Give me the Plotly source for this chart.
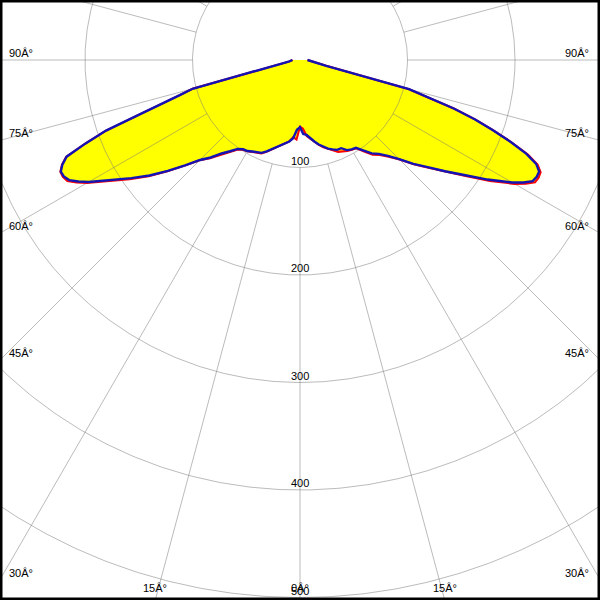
import numpy as np
import plotly.graph_objects as go

# ---------------- data ----------------
gamma = [0, 2.5, 5, 7.5, 10, 12.5, 15, 17.5, 20, 22.5, 25, 27.5, 30, 32.5, 35,
         37.5, 40, 42.5, 45, 47.5, 50, 52.5, 55, 57.5, 60, 61.25, 62.5, 63.75,
         65, 66.25, 67.5, 68.75, 70, 71.25, 72.5, 73.75, 75, 77.5, 80, 82.5,
         85, 87.5, 90]

# C90-C270 plane (blue): left half and right half, cd
blue_left = [62.5, 65, 73, 76.5, 78, 80.5, 83.5, 87, 90.5, 93.5, 95, 96, 97.8,
             98.5, 101, 107, 113.5, 123, 131.5, 145, 160.5, 176.5, 191.5, 207.5,
             227, 235, 242, 245, 245.5, 241.5, 235, 214, 192, 158, 132, 116,
             103.5, 25, 14, 10, 8.5, 7.5, 7]
blue_right = [62.5, 69, 70, 73.5, 77, 80.5, 83.5, 86.5, 88.5, 90.5, 90.5, 94.5,
              96, 96.8, 102.5, 109.5, 114, 121, 130.5, 143, 155, 170, 186.5,
              207, 228, 237, 244, 245.5, 245.5, 240, 228, 210, 191, 172, 150,
              123, 105, 25, 14, 10, 8.5, 7.5, 7]

# C0-C180 plane (red)
red_left = [62, 74, 72, 76.5, 78.5, 81, 84, 87.5, 91, 94, 95.5, 96.5, 98,
            99, 102, 108.5, 115, 124, 132, 145.5, 161, 177.5, 193.5, 209.5,
            229, 237, 244, 246, 246, 242, 235.5, 214, 192, 158, 132, 116,
            103.5, 25, 14, 10, 8.5, 7.5, 7]
red_right = [62, 64, 71, 74, 77.5, 81, 84, 87, 89.5, 92.5, 94, 95.5, 96.5,
             97.5, 104, 111, 115.5, 122, 131, 143.5, 156, 171, 188, 209.5,
             230.5, 239.5, 246.5, 247.5, 247, 241.5, 229.5, 211, 191.5, 172,
             150, 123, 105, 25, 14, 10, 8.5, 7.5, 7]

radial_ticks = [100, 200, 300, 400, 500]
radial_labels = ["100", "200", "300", "400", "500"]
side_angle_ticks = [90, 75, 60, 45, 30]
bottom_angle_ticks = [15, 0]
spoke_angles = list(range(0, 360, 15))

# ---------------- layout constants ----------------
W, H = 600, 600
CX, CY = 300, 60          # pole position in pixels
PX = 1.075                # pixels per cd
x_range = [-CX / PX, (W - CX) / PX]
y_range = [-(H - CY) / PX, CY / PX]

FONT = dict(family="Liberation Sans, Arial, sans-serif", size=11, color="black")
GRID = "rgba(120,120,120,0.5)"
DEG = "\u00c2\u00b0"


def polar_xy(g, vals, side):
    g = np.radians(np.asarray(g, dtype=float))
    v = np.asarray(vals, dtype=float)
    return side * v * np.sin(g), -v * np.cos(g)


def outline(left, right):
    xl, yl = polar_xy(gamma, left, -1)
    xr, yr = polar_xy(gamma, right, 1)
    x = np.concatenate([xl[::-1], xr[1:]])
    y = np.concatenate([yl[::-1], yr[1:]])
    return x, y


fig = go.Figure()

rx, ry = outline(red_left, red_right)
bx, by = outline(blue_left, blue_right)

# yellow fills
for x, y in ((rx, ry), (bx, by)):
    fig.add_trace(go.Scatter(x=x, y=y, mode="lines", fill="toself",
                             fillcolor="#ffff00", line=dict(width=0),
                             hoverinfo="skip", showlegend=False))

# grid circles
theta = np.linspace(0, 2 * np.pi, 721)
gx, gy = [], []
for r in radial_ticks:
    gx += list(r * np.cos(theta)) + [None]
    gy += list(r * np.sin(theta)) + [None]
fig.add_trace(go.Scatter(x=gx, y=gy, mode="lines",
                         line=dict(color=GRID, width=1),
                         hoverinfo="skip", showlegend=False))

# spokes (start at first circle)
sx, sy = [], []
r0, r1 = radial_ticks[0], radial_ticks[-1] * 2
for a in spoke_angles:
    xa, ya = polar_xy([a, a], [r0, r1], 1)
    sx += list(xa) + [None]
    sy += list(ya) + [None]
fig.add_trace(go.Scatter(x=sx, y=sy, mode="lines",
                         line=dict(color=GRID, width=1),
                         hoverinfo="skip", showlegend=False))

# curves
fig.add_trace(go.Scatter(x=rx, y=ry, mode="lines",
                         line=dict(color="#ff0000", width=2),
                         hoverinfo="skip", showlegend=False))
fig.add_trace(go.Scatter(x=bx, y=by, mode="lines",
                         line=dict(color="#1414b4", width=2.4),
                         hoverinfo="skip", showlegend=False))

ann = []
# radial value labels
for r, t in zip(radial_ticks, radial_labels):
    ann.append(dict(x=0, y=-r, xref="x", yref="y", text=t, showarrow=False,
                    yanchor="middle", xanchor="center", yshift=7, font=FONT))
# side angle labels
for a in side_angle_ticks:
    yd = -(-x_range[0]) * np.cos(np.radians(a)) / np.sin(np.radians(a))
    ann.append(dict(x=0, y=yd, xref="paper", yref="y", text=f"{a}{DEG}",
                    showarrow=False, xanchor="left", yanchor="middle",
                    xshift=7, yshift=7, font=FONT))
    ann.append(dict(x=1, y=yd, xref="paper", yref="y", text=f"{a}{DEG}",
                    showarrow=False, xanchor="right", yanchor="middle",
                    xshift=-9, yshift=7, font=FONT))
# bottom angle labels
for a in bottom_angle_ticks:
    xd = -y_range[0] * np.tan(np.radians(a))
    sides = [1] if a == 0 else [-1, 1]
    for s in sides:
        ann.append(dict(x=s * xd, y=0, xref="x", yref="paper", text=f"{a}{DEG}",
                        showarrow=False, xanchor="center", yanchor="middle",
                        yshift=12, font=FONT))

fig.update_layout(
    width=W, height=H,
    margin=dict(l=0, r=0, t=0, b=0),
    paper_bgcolor="white", plot_bgcolor="white",
    xaxis=dict(range=x_range, visible=False, fixedrange=True),
    yaxis=dict(range=y_range, visible=False, fixedrange=True),
    annotations=ann,
    shapes=[dict(type="rect", xref="paper", yref="paper", x0=0, y0=0, x1=1, y1=1,
                 line=dict(color="black", width=5), layer="above")],
    showlegend=False,
)

fig.write_html(
    "out.html",
    config={"displayModeBar": False},
    post_script="document.body.style.margin='0px';document.body.style.overflow='hidden';",
)
